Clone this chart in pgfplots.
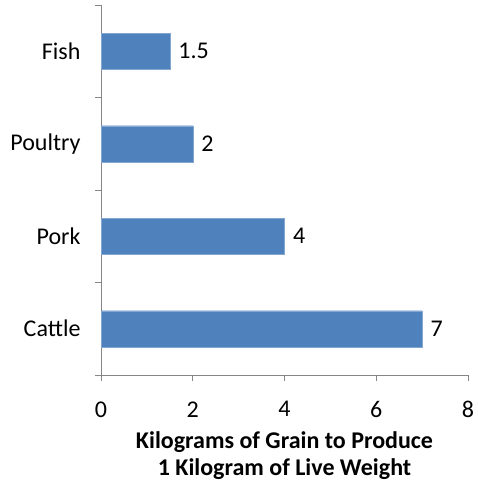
\documentclass[border=0pt]{standalone}
\usepackage{pgfplots}
\pgfplotsset{compat=1.18}
\usepackage{fontspec}
\setmainfont{Carlito}
\definecolor{barblue}{HTML}{4F81BD}
\definecolor{axgray}{HTML}{868686}
\begin{document}
\begin{tikzpicture}
\begin{axis}[
  name=ax,
  scale only axis,
  width=367pt, height=370pt,
  xbar,
  xmin=0, xmax=8,
  ymin=-0.5, ymax=3.5,
  bar width=0.39,
  axis x line*=bottom,
  axis y line*=left,
  axis line style={axgray, line width=0.9pt},
  xtick={0,2,4,6,8},
  ytick={0,1,2,3},
  yticklabels={Cattle,Pork,Poultry,Fish},
  minor ytick={-0.5,0.5,1.5,2.5,3.5},
  major y tick style={draw=none},
  minor y tick style={axgray, line width=0.9pt},
  minor tick length=6pt,
  x tick style={axgray, line width=0.9pt},
  major tick length=6pt,
  tick align=outside,
  tick label style={font=\fontsize{24}{28}\selectfont},
  /pgf/number format/assume math mode=true,
  yticklabel style={xshift=-11pt},
  xticklabel style={yshift=-17pt},
  xlabel={\textbf{Kilograms of Grain to Produce}\\\textbf{1 Kilogram of Live Weight}},
  xlabel style={font=\fontsize{24}{26.5}\selectfont, align=center, yshift=-7pt},
  nodes near coords,
  nodes near coords style={font=\fontsize{24}{28}\selectfont, anchor=west, xshift=5pt},
  point meta=explicit symbolic,
  clip=false,
]
\addplot[fill=barblue, draw=barblue!70!white] coordinates {
  (7,0) [7]
  (4,1) [4]
  (2,2) [2]
  (1.5,3) [1.5]
};
\end{axis}
\path (ax.north east) ++(8pt,5pt);
\path (ax.north west) ++(-101pt,0pt);
\path (ax.south west) ++(0pt,-111pt);
\end{tikzpicture}
\end{document}
